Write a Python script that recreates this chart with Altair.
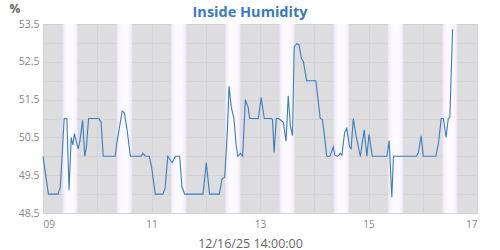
import altair as alt
import pandas as pd

# Day-of-month (fractional) and inside humidity readings (%)
days = [9.00, 9.10, 9.28, 9.32, 9.39, 9.44, 9.48, 9.52, 9.55, 9.58, 9.61, 9.65, 9.68,
        9.73, 9.77, 9.80, 9.84, 10.03, 10.07, 10.11, 10.33, 10.36, 10.46, 10.50, 10.55,
        10.61, 10.81, 10.84, 10.89, 10.96, 11.00, 11.07, 11.21, 11.25, 11.30, 11.38,
        11.44, 11.52, 11.56, 11.61, 11.95, 12.01, 12.07, 12.25, 12.30, 12.35, 12.40,
        12.43, 12.47, 12.52, 12.56, 12.59, 12.64, 12.68, 12.73, 12.78, 12.81, 12.97,
        13.02, 13.08, 13.21, 13.23, 13.26, 13.30, 13.35, 13.43, 13.48, 13.52, 13.56,
        13.60, 13.63, 13.68, 13.72, 13.76, 13.80, 13.86, 14.03, 14.07, 14.11, 14.15,
        14.18, 14.23, 14.29, 14.35, 14.38, 14.43, 14.48, 14.51, 14.56, 14.60, 14.65,
        14.68, 14.72, 14.77, 14.85, 14.92, 14.97, 15.01, 15.07, 15.34, 15.38, 15.43,
        15.46, 15.88, 15.92, 15.97, 16.01, 16.24, 16.29, 16.34, 16.38, 16.43, 16.47,
        16.50, 16.55]
humidity = [50.0, 49.0, 49.0, 49.2, 51.0, 51.0, 49.1, 50.5, 50.3, 50.6, 50.4, 50.2, 50.4,
            50.95, 50.0, 50.25, 51.0, 51.0, 50.9, 50.0, 50.0, 50.35, 51.2, 51.15, 50.7,
            50.0, 50.0, 50.08, 50.0, 50.0, 49.73, 49.0, 49.0, 49.15, 50.0, 49.83,
            50.0, 50.0, 49.2, 49.0, 49.0, 49.83, 49.0, 49.0, 49.4, 49.45, 50.7,
            51.85, 51.3, 51.0, 50.3, 50.0, 50.08, 50.0, 51.5, 51.3, 51.0, 51.0,
            51.55, 51.0, 51.0, 50.97, 50.1, 51.0, 51.0, 50.9, 50.4, 51.6, 50.8,
            50.55, 52.9, 52.98, 52.95, 52.6, 52.5, 52.0, 52.0, 51.5, 51.0, 50.97,
            50.65, 50.0, 50.0, 50.25, 50.03, 50.0, 50.08, 50.03, 50.63, 50.74, 50.25,
            50.2, 51.0, 50.55, 50.0, 50.7, 50.0, 50.58, 50.0, 50.0, 50.41, 48.92,
            50.0, 50.0, 50.1, 50.54, 50.0, 50.0, 50.35, 51.0, 51.0, 50.5, 51.0,
            51.03, 53.36]

# Daytime bands (start / end in days)
band_start = [9.36, 10.36, 11.36, 12.36, 13.36, 14.36, 15.36, 16.36]
band_end = [9.64, 10.64, 11.64, 12.64, 13.64, 14.64, 15.64, 16.64]

x_ticks = [9, 10, 11, 12, 13, 14, 15, 16, 17]
y_ticks = [48.5, 49.0, 49.5, 50.0, 50.5, 51.0, 51.5, 52.0, 52.5, 53.0, 53.5]

title_text = ["Inside Humidity"]

df = pd.DataFrame({"day": days, "hum": humidity})
bands = pd.DataFrame({"day": band_start, "e": band_end})
titles = pd.DataFrame({"t": title_text})

FONT = "Open Sans"
xscale = alt.Scale(domain=[9, 17], nice=False, zero=False)
yscale = alt.Scale(domain=[48.5, 53.5], nice=False, zero=False)

x_axis = alt.Axis(values=x_ticks, grid=True, gridColor="#d4d4d4",
                  domain=False, ticks=False, labelFont=FONT, labelFontSize=10,
                  labelColor="#888888", labelPadding=6,
                  labelExpr="datum.value % 2 == 1 ? (datum.value < 10 ? '0' + datum.value : '' + datum.value) : ''",
                  title="12/16/25 14:00:00", titleFont=FONT, titleFontSize=12.5,
                  titleFontWeight="normal", titleColor="#666666",
                  titleX=207, titleY=34, titleAlign="center",
                  titleBaseline="alphabetic")
y_axis = alt.Axis(values=y_ticks, grid=True, gridColor="#d4d4d4",
                  domain=False, ticks=False, labelFont=FONT, labelFontSize=10.5,
                  labelColor="#888888", labelPadding=4,
                  labelExpr="(datum.value * 2) % 2 == 1 ? format(datum.value, '.1f') : ''",
                  title="%", titleFont=FONT, titleFontSize=12, titleFontWeight="bold",
                  titleColor="#666666", titleAngle=0, titleX=-34, titleY=-12,
                  titleAlign="left", titleBaseline="alphabetic")

grad = alt.Gradient(
    gradient="linear",
    x1=0, x2=1, y1=0, y2=0,
    stops=[
        alt.GradientStop(offset=0, color="#ebe3f3"),
        alt.GradientStop(offset=0.12, color="#f6f1fc"),
        alt.GradientStop(offset=0.3, color="#fcfaff"),
        alt.GradientStop(offset=0.7, color="#fcfaff"),
        alt.GradientStop(offset=0.88, color="#f6f1fc"),
        alt.GradientStop(offset=1, color="#ebe3f3"),
    ],
)

band_layer = alt.Chart(bands).mark_rect(color=grad).encode(
    x=alt.X("day:Q", scale=xscale, axis=x_axis),
    x2="e:Q",
    y=alt.value(0),
    y2=alt.value(189),
)

line_layer = alt.Chart(df).mark_line(color="#3b7dbd", strokeWidth=1.1).encode(
    x=alt.X("day:Q", scale=xscale, axis=x_axis),
    y=alt.Y("hum:Q", scale=yscale, axis=y_axis),
)

title_layer = alt.Chart(titles).mark_text(
    font=FONT, fontSize=14.5, fontWeight="bold", color="#3a7bbf",
    align="center", baseline="alphabetic",
).encode(text="t:N", x=alt.value(207), y=alt.value(-7.5))

chart = alt.layer(band_layer, line_layer, title_layer).properties(
    width=434,
    height=189,
    autosize=alt.AutoSizeParams(type="none"),
    padding={"left": 43, "top": 24, "right": 22, "bottom": 37},
).configure_view(fill="#dddde0", stroke="#d6d6d6")

chart.save("out.html", embed_options={"renderer": "svg", "actions": False})
